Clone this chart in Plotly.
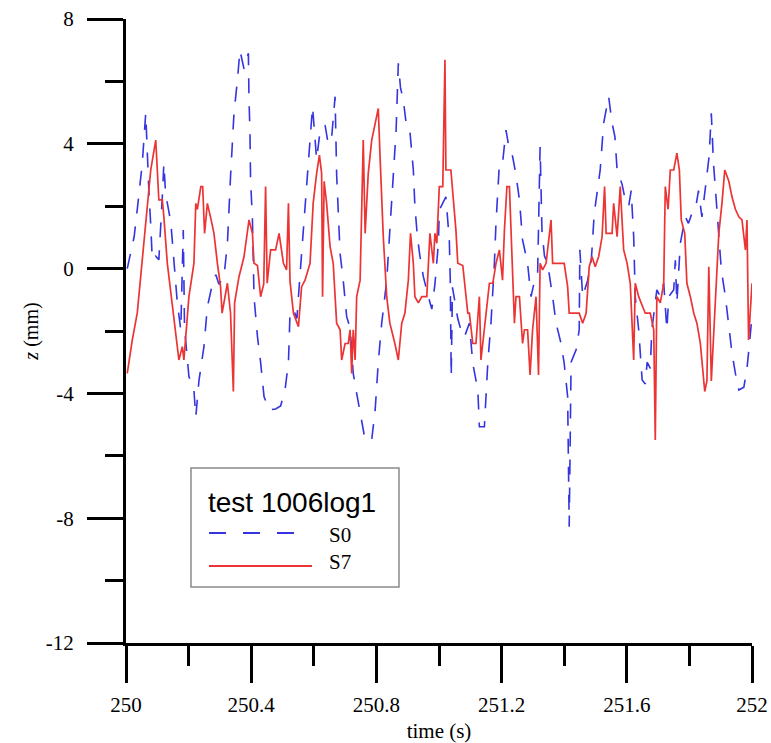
import plotly.graph_objects as go

# ---------------- data ----------------
s7_t = [250.004, 250.02, 250.036, 250.063, 250.079, 250.095, 250.105, 250.116, 250.121, 250.132,
        250.148, 250.159, 250.169, 250.18, 250.185, 250.201, 250.217, 250.223, 250.228, 250.239,
        250.245, 250.251, 250.26, 250.272, 250.281, 250.292, 250.302, 250.307, 250.318, 250.324,
        250.334, 250.343, 250.347, 250.361, 250.377, 250.393, 250.404, 250.409, 250.42, 250.43,
        250.44, 250.446, 250.451, 250.462, 250.478, 250.489, 250.503, 250.513, 250.519, 250.524,
        250.535, 250.551, 250.561, 250.572, 250.588, 250.598, 250.609, 250.618, 250.625, 250.628,
        250.633, 250.641, 250.652, 250.662, 250.673, 250.684, 250.689, 250.7, 250.71, 250.716,
        250.721, 250.726, 250.732, 250.737, 250.748, 250.758, 250.764, 250.769, 250.774, 250.785,
        250.796, 250.806, 250.812, 250.822, 250.833, 250.843, 250.859, 250.87, 250.881, 250.891,
        250.902, 250.909, 250.918, 250.923, 250.934, 250.945, 250.961, 250.971, 250.982, 250.987,
        250.993, 251.001, 251.012, 251.019, 251.022, 251.038, 251.054, 251.06, 251.076, 251.092,
        251.097, 251.108, 251.118, 251.129, 251.134, 251.145, 251.161, 251.172, 251.182, 251.193,
        251.203, 251.209, 251.217, 251.225, 251.235, 251.241, 251.246, 251.257, 251.267, 251.273,
        251.283, 251.291, 251.299, 251.31, 251.318, 251.323, 251.331, 251.342, 251.358, 251.363,
        251.374, 251.4, 251.411, 251.416, 251.438, 251.448, 251.459, 251.47, 251.48, 251.489,
        251.499, 251.51, 251.521, 251.529, 251.534, 251.553, 251.558, 251.569, 251.579, 251.59,
        251.601, 251.611, 251.622, 251.627, 251.638, 251.659, 251.675, 251.686, 251.691, 251.696,
        251.707, 251.718, 251.723, 251.732, 251.739, 251.75, 251.76, 251.768, 251.774, 251.785,
        251.792, 251.803, 251.814, 251.824, 251.835, 251.849, 251.856, 251.862, 251.87, 251.883,
        251.894, 251.904, 251.913, 251.926, 251.936, 251.947, 251.958, 251.968, 251.979, 251.984,
        251.989, 252.0]
s7_z = [-3.36, -2.29, -1.42, 1.56, 3.16, 4.12, 2.2, 2.2, 1.66, 0.17,
        -1.22, -2.18, -2.93, -2.5, -2.93, -0.9, 0.17, 2.09, 1.9, 2.63,
        2.63, 1.13, 2.09, 1.56, 1.13, 0.17, -0.58, -1.43, -0.8, -0.47,
        -1.43, -3.94, -1.1, -0.26, 0.38, 1.56, 1.13, 0.17, 0.1, -0.9,
        -0.5, 2.63, -0.47, 0.6, 0.6, 1.13, 0.17, -0.04, 2.09, -0.4,
        -1.43, -1.86, -0.58, -0.37, 0.17, 2.09, 3.05, 3.64, 3.05, -0.9,
        2.8, 2.09, 0.7, 0.17, -1.75, -1.96, -2.93, -2.4, -2.4, -1.96,
        -3.36, -1.96, -2.93, -0.9, -0.37, 4.12, 1.13, 2.09, 3.05, 4.12,
        4.66, 5.13, 3.5, 1.02, -0.9, -1.75, -2.4, -2.93, -1.75, -1.43,
        -0.37, 1.13, 0.17, -0.9, -1.1, -0.9, -0.9, 1.13, 0.17, 1.13,
        0.81, 2.63, 2.63, 6.69, 3.16, 3.16, 1.24, 0.17, 0.1, -1.43,
        -1.43, -2.4, -2.4, -0.9, -2.93, -1.96, -0.47, -0.47, 0.17, 0.6,
        -0.37, 1.24, 2.63, 2.63, 0.17, -1.75, -0.9, -0.9, -2.4, -1.96,
        -1.96, -3.41, -1.96, -0.9, -3.41, 0.17, -0.04, 0.17, 1.56, 0.17,
        0.17, 0.17, -0.58, -1.43, -1.43, -1.43, -1.75, -1.43, 0.06, 0.38,
        0.06, 0.38, 1.02, 2.63, 1.13, 1.13, 2.09, 1.02, 2.63, 0.6,
        0.17, -0.47, -2.93, -0.47, -0.9, -1.43, -1.43, -1.96, -5.49, -0.9,
        -1.1, -0.47, 2.63, 1.9, 3.16, 3.16, 3.7, 3.16, 1.56, 1.13,
        -0.47, -0.9, -1.43, -1.75, -2.4, -3.94, -3.6, 0.06, -3.6, -0.9,
        1.13, 2.09, 3.16, 2.8, 2.3, 1.9, 1.66, 1.56, 0.6, 1.56,
        -2.29, -0.47]

s0_t = [250.004, 250.015, 250.026, 250.036, 250.052, 250.063, 250.068, 250.073, 250.079, 250.084,
        250.095, 250.105, 250.116, 250.121, 250.127, 250.132, 250.143, 250.153, 250.164, 250.175,
        250.183, 250.187, 250.201, 250.217, 250.223, 250.233, 250.249, 250.26, 250.276, 250.287,
        250.297, 250.313, 250.324, 250.334, 250.345, 250.356, 250.364, 250.377, 250.391, 250.393,
        250.396, 250.398, 250.404, 250.409, 250.42, 250.43, 250.441, 250.457, 250.478, 250.494,
        250.508, 250.519, 250.524, 250.535, 250.546, 250.556, 250.566, 250.577, 250.588, 250.596,
        250.609, 250.62, 250.636, 250.646, 250.657, 250.668, 250.673, 250.678, 250.684, 250.694,
        250.705, 250.716, 250.726, 250.737, 250.748, 250.764, 250.785, 250.796, 250.806, 250.817,
        250.833, 250.843, 250.854, 250.863, 250.87, 250.877, 250.886, 250.897, 250.907, 250.918,
        250.923, 250.931, 250.939, 250.95, 250.966, 250.977, 250.987, 250.998, 251.001, 251.022,
        251.033, 251.036, 251.039, 251.043, 251.06, 251.07, 251.081, 251.097, 251.108, 251.124,
        251.129, 251.145, 251.156, 251.166, 251.177, 251.182, 251.193, 251.203, 251.214, 251.225,
        251.235, 251.246, 251.257, 251.267, 251.283, 251.294, 251.305, 251.315, 251.323, 251.329,
        251.337, 251.347, 251.363, 251.374, 251.39, 251.4, 251.411, 251.416, 251.422, 251.438,
        251.448, 251.45, 251.459, 251.475, 251.486, 251.496, 251.515, 251.526, 251.542, 251.553,
        251.562, 251.569, 251.585, 251.595, 251.606, 251.614, 251.622, 251.627, 251.638, 251.649,
        251.659, 251.665, 251.675, 251.68, 251.696, 251.707, 251.718, 251.728, 251.734, 251.75,
        251.755, 251.76, 251.771, 251.787, 251.797, 251.808, 251.819, 251.829, 251.84, 251.856,
        251.863, 251.87, 251.877, 251.885, 251.894, 251.902, 251.915, 251.926, 251.936, 251.947,
        251.958, 251.974, 251.984, 251.989, 251.998]
s0_z = [0.0, 0.5, 1.02, 1.9, 3.37, 4.98, 3.4, 2.5, 1.4, 0.28,
        0.4, 0.28, 2.3, 3.37, 2.3, 2.1, 1.5, 0.17, -1.1, -1.97,
        1.24, -1.9, -3.46, -3.9, -4.75, -3.6, -2.5, -1.22, -0.5, -0.2,
        -0.5, -0.26, 0.81, 2.95, 4.98, 6.04, 7.0, 6.4, 6.9, 5.4,
        4.4, 2.84, 1.56, -0.9, -2.18, -3.0, -4.1, -4.53, -4.5, -4.4,
        -3.9, -3.0, -1.43, -1.3, -1.6, -0.2, 1.24, 2.84, 4.12, 5.19,
        3.5, 4.4, 4.6, 4.0, 4.2, 5.51, 3.0, 1.87, 0.48, -0.37,
        -1.54, -1.9, -3.36, -4.0, -4.64, -5.49, -5.49, -4.53, -3.0, -1.75,
        -0.37, 1.24, 2.84, 4.44, 6.58, 5.8, 5.4, 4.5, 4.4, 3.16,
        2.0, 1.02, 0.4, -0.26, -0.9, -1.3, -0.5, 0.81, 1.88, 2.3,
        0.9, -0.37, -3.46, -0.6, -1.6, -1.97, -2.2, -1.75, -3.04, -3.89,
        -5.07, -5.07, -3.0, -1.75, 0.17, 1.45, 3.37, 3.37, 4.44, 3.8,
        3.6, 3.0, 2.2, 0.92, 0.17, -0.9, -0.4, -0.2, 3.9, 1.2,
        0.4, 0.17, -0.9, -1.75, -2.4, -3.04, -4.1, -8.27, -3.0, -2.6,
        -1.96, 0.6, -0.9, -0.37, 0.17, 1.77, 3.16, 4.66, 5.51, 4.66,
        4.23, 3.16, 2.7, 2.2, 2.0, 2.5, 1.02, -0.9, -1.96, -3.57,
        -3.7, -3.0, -3.2, -1.96, -0.68, -0.9, -0.47, -1.96, -0.9, -0.68,
        0.27, -1.1, 0.81, 1.66, 1.45, 1.77, 1.88, 2.5, 1.66, 3.05,
        3.6, 4.98, 3.37, 2.3, 1.02, -0.04, -0.9, -1.96, -2.7, -3.36,
        -3.89, -3.8, -3.2, -2.7, -1.75]

x_tickvals = [250, 250.4, 250.8, 251.2, 251.6, 252]
x_ticktext = ["250", "250.4", "250.8", "251.2", "251.6", "252"]
x_minorvals = [250.2, 250.6, 251.0, 251.4, 251.8]
y_tickvals = [-12, -8, -4, 0, 4, 8]
y_ticktext = ["-12", "-8", "-4", "0", "4", "8"]
y_minorvals = [-10, -6, -2, 2, 6]

legend_title = "test 1006log1"
series_names = ["S0", "S7"]

# ---------------- figure ----------------
BLUE = "#3434e0"
RED = "#ec3434"
SERIF = "Liberation Serif, Times New Roman, serif"
SANS = "Liberation Sans, Arial, sans-serif"

fig = go.Figure()
fig.add_trace(go.Scatter(x=s0_t, y=s0_z, mode="lines", name=series_names[0],
                         line=dict(color=BLUE, width=1.6, dash="15px,13px"),
                         showlegend=False))
fig.add_trace(go.Scatter(x=s7_t, y=s7_z, mode="lines", name=series_names[1],
                         line=dict(color=RED, width=1.7),
                         showlegend=False))

axis_common = dict(showline=True, linecolor="black", linewidth=3, mirror=False,
                   showgrid=False, zeroline=False, ticks="outside",
                   tickcolor="black", tickwidth=3, ticklabeloverflow="allow",
                   tickfont=dict(family=SERIF, size=21, color="black"))

fig.update_xaxes(range=[250, 252], tickmode="array", tickvals=x_tickvals,
                 ticktext=x_ticktext, ticklen=37, ticklabelstandoff=4,
                 minor=dict(tickmode="array", tickvals=x_minorvals, ticklen=20,
                            tickwidth=3, tickcolor="black", ticks="outside"),
                 title=dict(text="time (s)", font=dict(family=SERIF, size=21, color="black"),
                            standoff=11),
                 **axis_common)
fig.update_yaxes(range=[-12, 8], tickmode="array", tickvals=y_tickvals,
                 ticktext=y_ticktext, ticklen=36, ticklabelstandoff=9,
                 minor=dict(tickmode="array", tickvals=y_minorvals, ticklen=18,
                            tickwidth=3, tickcolor="black", ticks="outside"),
                 title=dict(text="<i>z</i> (mm)", font=dict(family=SERIF, size=20, color="black"),
                            standoff=2),
                 **axis_common)

# ---------------- hand-drawn legend box (matches the reference's long samples) ----------------
fig.add_shape(type="rect", xref="paper", yref="paper", x0=0.1038, x1=0.4361, y0=0.0897, y1=0.2804,
              line=dict(color="#8a8a8a", width=1.5), fillcolor="white", layer="above")
fig.add_shape(type="line", xref="paper", yref="paper", x0=0.1326, x1=0.2732, y0=0.1763, y1=0.1763,
              line=dict(color=BLUE, width=1.8, dash="17px,17px"), layer="above")
fig.add_shape(type="line", xref="paper", yref="paper", x0=0.1326, x1=0.2971, y0=0.1234, y1=0.1234,
              line=dict(color=RED, width=1.8), layer="above")
fig.add_annotation(xref="paper", yref="paper", x=0.127, y=0.2244, xanchor="left", yanchor="middle",
                   text=legend_title, showarrow=False,
                   font=dict(family=SANS, size=28, color="black"))
fig.add_annotation(xref="paper", yref="paper", x=0.3206, y=0.1731, xanchor="left", yanchor="middle",
                   text=series_names[0], showarrow=False,
                   font=dict(family=SERIF, size=21, color="black"))
fig.add_annotation(xref="paper", yref="paper", x=0.3206, y=0.1300, xanchor="left", yanchor="middle",
                   text=series_names[1], showarrow=False,
                   font=dict(family=SERIF, size=21, color="black"))

fig.update_layout(width=771, height=743, paper_bgcolor="white", plot_bgcolor="white",
                  margin=dict(l=126, r=19, t=19, b=100, autoexpand=False),
                  showlegend=False)

# remove the page's default body margin so the 771x743 figure fills the window exactly
fig.write_html("out.html", config={"displayModeBar": False},
               post_script="document.body.style.margin='0';document.body.style.overflow='hidden';")
